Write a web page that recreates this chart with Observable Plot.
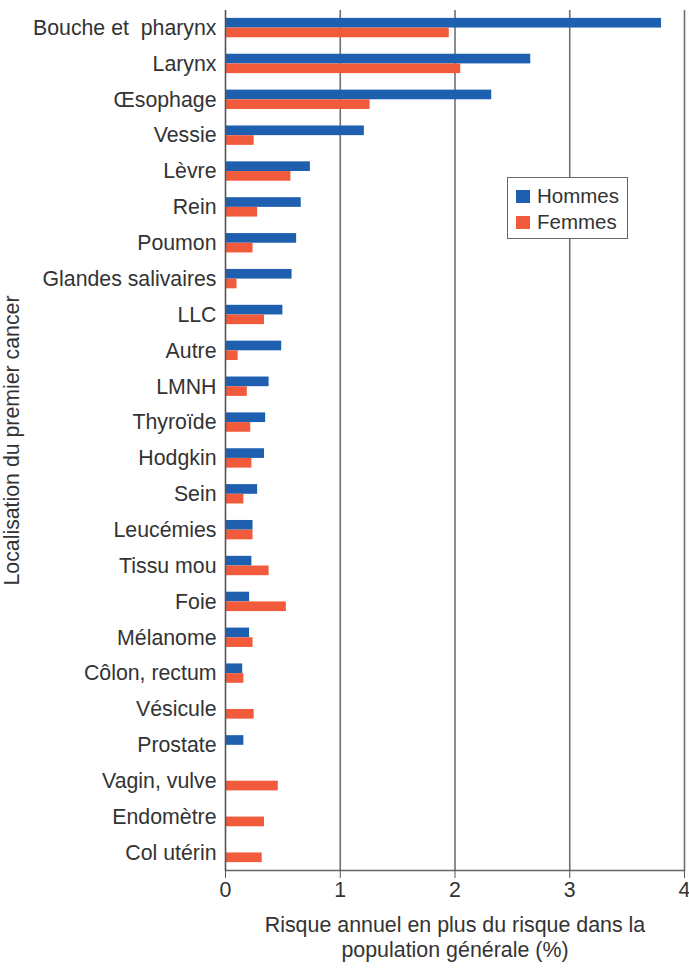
<!DOCTYPE html>
<html>
<head>
<meta charset="utf-8">
<script src="https://cdn.jsdelivr.net/npm/d3@7"></script>
<script src="https://cdn.jsdelivr.net/npm/@observablehq/plot@0.6"></script>
<style>
  html, body { margin: 0; padding: 0; background: #fff; }
  body { font-family: "Liberation Sans", Arial, sans-serif; color: #333; }
  #wrap { position: relative; width: 689px; }
  #xtitle { width: 689px; font-size: 21.4px; line-height: 25px; color: #333; padding-top: 5px; }
  #xtitle div { position: relative; left: 455px; width: 0; white-space: nowrap; }
  #xtitle span { display: inline-block; transform: translateX(-50%); }
  #legend { position: absolute; left: 507px; top: 177px; width: 119px; height: 60px; border: 1px solid #666; background: #fff; font-size: 20.5px; color: #333; }
  #legend .row { position: absolute; left: 8px; display: flex; align-items: center; }
  #legend .sw { width: 14px; height: 13px; margin-right: 7px; }
</style>
</head>
<body>
<div id="wrap"></div>
<script>
const categories = ["Bouche et  pharynx", "Larynx", "Œsophage", "Vessie", "Lèvre", "Rein", "Poumon",
  "Glandes salivaires", "LLC", "Autre", "LMNH", "Thyroïde", "Hodgkin", "Sein", "Leucémies",
  "Tissu mou", "Foie", "Mélanome", "Côlon, rectum", "Vésicule", "Prostate", "Vagin, vulve",
  "Endomètre", "Col utérin"];
const hommes = [3.80, 2.66, 2.32, 1.21, 0.74, 0.66, 0.62, 0.58, 0.50, 0.49, 0.38, 0.35, 0.34, 0.28,
  0.24, 0.23, 0.21, 0.21, 0.15, null, 0.16, null, null, null];
const femmes = [1.95, 2.05, 1.26, 0.25, 0.57, 0.28, 0.24, 0.10, 0.34, 0.11, 0.19, 0.22, 0.23, 0.16,
  0.24, 0.38, 0.53, 0.24, 0.16, 0.25, null, 0.46, 0.34, 0.32];
const series = ["Hommes", "Femmes"];
const colors = ["#1f5fb0", "#f15a3b"];
const xTicks = [0, 1, 2, 3, 4];
const yLabel = "Localisation du premier cancer";
const xTitle = ["Risque annuel en plus du risque dans la", "population générale (%)"];

const rowsH = categories.map((c, i) => ({cat: c, value: hommes[i]})).filter(d => d.value != null);
const rowsF = categories.map((c, i) => ({cat: c, value: femmes[i]})).filter(d => d.value != null);

const chart = Plot.plot({
  width: 689,
  height: 908,
  marginTop: 10,
  marginBottom: 38,
  marginLeft: 225,
  marginRight: 5,
  style: {fontFamily: "'Liberation Sans', Arial, sans-serif", fontSize: "21.3px", color: "#333", background: "#fff"},
  x: {domain: [0, 4]},
  y: {domain: categories, paddingInner: 0.46, paddingOuter: 0.22, round: false},
  marks: [
    Plot.ruleX(xTicks.slice(1), {stroke: "#707070", strokeWidth: 1.6}),
    Plot.barX(rowsH, {y: "cat", x: "value", fill: colors[0], insetBottom: 9.7}),
    Plot.barX(rowsF, {y: "cat", x: "value", fill: colors[1], insetTop: 9.7}),
    Plot.frame({anchor: "bottom", stroke: "#666", strokeWidth: 1.5}),
    Plot.ruleX([0], {stroke: "#555", strokeWidth: 1.6}),
    Plot.axisX({ticks: xTicks, tickSize: 8, tickPadding: 3, tickFormat: d => String(d), label: null, fontSize: 21.3, stroke: "#555"}),
    Plot.axisY({tickSize: 0, tickPadding: 9, fontSize: 21.3, label: yLabel, labelAnchor: "center", labelArrow: "none", labelOffset: 222})
  ]
});
const wrap = document.getElementById("wrap");
wrap.appendChild(chart);

const xt = document.createElement("div");
xt.id = "xtitle";
xTitle.forEach(t => { const d = document.createElement("div"); const s = document.createElement("span"); s.textContent = t; d.appendChild(s); xt.appendChild(d); });
wrap.appendChild(xt);

const lg = document.createElement("div");
lg.id = "legend";
series.forEach((s, i) => {
  const r = document.createElement("div");
  r.className = "row";
  r.style.top = (i === 0 ? 6 : 32) + "px";
  const sw = document.createElement("div");
  sw.className = "sw";
  sw.style.background = colors[i];
  const t = document.createElement("span");
  t.textContent = s;
  r.appendChild(sw); r.appendChild(t);
  lg.appendChild(r);
});
wrap.appendChild(lg);
</script>
</body>
</html>
